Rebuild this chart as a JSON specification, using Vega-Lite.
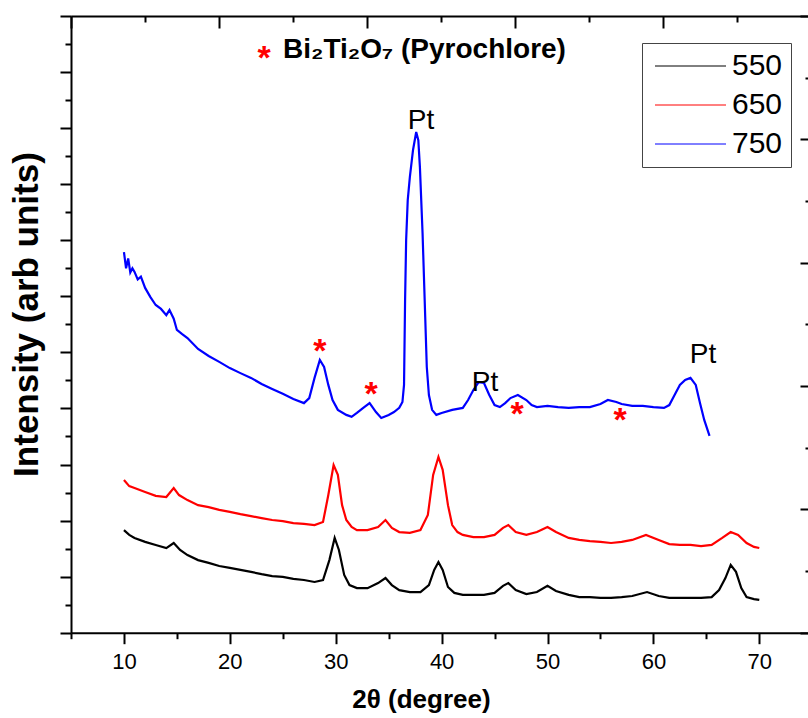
{
  "$schema": "https://vega.github.io/schema/vega-lite/v6.json",
  "width": 737,
  "height": 616.7,
  "autosize": {"type": "none"},
  "padding": {"left": 71, "top": 16, "right": 0, "bottom": 85.3},
  "config": {
    "font": "Liberation Sans",
    "view": {"stroke": null},
    "axis": {"grid": false, "domainColor": "black", "tickColor": "black", "domainWidth": 2, "tickWidth": 2, "labelColor": "black", "titleColor": "black"}
  },
  "datasets": {
    "xrd": [
      {"s":"550","x":10.0,"y":3.66},{"s":"550","x":10.5,"y":3.49},{"s":"550","x":11,"y":3.38},{"s":"550","x":12,"y":3.24},{"s":"550","x":13,"y":3.13},{"s":"550","x":14,"y":3.02},{"s":"550","x":14.7,"y":3.20},{"s":"550","x":15.3,"y":2.95},{"s":"550","x":16,"y":2.77},{"s":"550","x":17,"y":2.59},{"s":"550","x":18,"y":2.49},{"s":"550","x":19,"y":2.38},{"s":"550","x":20,"y":2.31},{"s":"550","x":21,"y":2.24},{"s":"550","x":22,"y":2.17},{"s":"550","x":23,"y":2.09},{"s":"550","x":24,"y":2.02},{"s":"550","x":25,"y":1.99},{"s":"550","x":26,"y":1.92},{"s":"550","x":27,"y":1.88},{"s":"550","x":28,"y":1.81},{"s":"550","x":28.8,"y":1.88},{"s":"550","x":29.4,"y":2.59},{"s":"550","x":29.9,"y":3.38},{"s":"550","x":30.3,"y":2.95},{"s":"550","x":30.8,"y":2.06},{"s":"550","x":31.3,"y":1.70},{"s":"550","x":32,"y":1.59},{"s":"550","x":33,"y":1.59},{"s":"550","x":34,"y":1.77},{"s":"550","x":34.7,"y":1.95},{"s":"550","x":35.3,"y":1.70},{"s":"550","x":36,"y":1.52},{"s":"550","x":37,"y":1.45},{"s":"550","x":38,"y":1.45},{"s":"550","x":38.8,"y":1.70},{"s":"550","x":39.3,"y":2.24},{"s":"550","x":39.7,"y":2.52},{"s":"550","x":40.1,"y":2.24},{"s":"550","x":40.6,"y":1.63},{"s":"550","x":41.2,"y":1.42},{"s":"550","x":42,"y":1.35},{"s":"550","x":43,"y":1.35},{"s":"550","x":44,"y":1.35},{"s":"550","x":45,"y":1.42},{"s":"550","x":45.8,"y":1.67},{"s":"550","x":46.3,"y":1.77},{"s":"550","x":47,"y":1.52},{"s":"550","x":48,"y":1.38},{"s":"550","x":49,"y":1.45},{"s":"550","x":50,"y":1.67},{"s":"550","x":50.8,"y":1.49},{"s":"550","x":52,"y":1.35},{"s":"550","x":53,"y":1.27},{"s":"550","x":54,"y":1.27},{"s":"550","x":55,"y":1.24},{"s":"550","x":56,"y":1.24},{"s":"550","x":57,"y":1.27},{"s":"550","x":58,"y":1.31},{"s":"550","x":59.4,"y":1.45},{"s":"550","x":60.5,"y":1.31},{"s":"550","x":61.5,"y":1.24},{"s":"550","x":62.5,"y":1.24},{"s":"550","x":63.5,"y":1.24},{"s":"550","x":64.5,"y":1.24},{"s":"550","x":65.5,"y":1.27},{"s":"550","x":66.2,"y":1.52},{"s":"550","x":66.8,"y":1.95},{"s":"550","x":67.3,"y":2.42},{"s":"550","x":67.8,"y":2.17},{"s":"550","x":68.3,"y":1.59},{"s":"550","x":68.8,"y":1.27},{"s":"550","x":69.5,"y":1.20},{"s":"550","x":70,"y":1.17},
      {"s":"650","x":10.0,"y":5.45},{"s":"650","x":10.5,"y":5.23},{"s":"650","x":11,"y":5.16},{"s":"650","x":12,"y":5.02},{"s":"650","x":13,"y":4.88},{"s":"650","x":14,"y":4.84},{"s":"650","x":14.7,"y":5.16},{"s":"650","x":15.2,"y":4.91},{"s":"650","x":16,"y":4.73},{"s":"650","x":17,"y":4.55},{"s":"650","x":18,"y":4.48},{"s":"650","x":19,"y":4.38},{"s":"650","x":20,"y":4.31},{"s":"650","x":21,"y":4.23},{"s":"650","x":22,"y":4.16},{"s":"650","x":23,"y":4.09},{"s":"650","x":24,"y":4.02},{"s":"650","x":25,"y":3.98},{"s":"650","x":26,"y":3.91},{"s":"650","x":27,"y":3.88},{"s":"650","x":28,"y":3.84},{"s":"650","x":28.8,"y":3.95},{"s":"650","x":29.3,"y":4.91},{"s":"650","x":29.8,"y":5.98},{"s":"650","x":30.2,"y":5.63},{"s":"650","x":30.6,"y":4.55},{"s":"650","x":31,"y":4.02},{"s":"650","x":31.5,"y":3.77},{"s":"650","x":32,"y":3.66},{"s":"650","x":33,"y":3.66},{"s":"650","x":34,"y":3.77},{"s":"650","x":34.7,"y":4.02},{"s":"650","x":35.3,"y":3.74},{"s":"650","x":36,"y":3.59},{"s":"650","x":37,"y":3.56},{"s":"650","x":38,"y":3.66},{"s":"650","x":38.7,"y":4.20},{"s":"650","x":39.2,"y":5.63},{"s":"650","x":39.7,"y":6.27},{"s":"650","x":40.1,"y":5.81},{"s":"650","x":40.6,"y":4.55},{"s":"650","x":41,"y":3.84},{"s":"650","x":41.5,"y":3.59},{"s":"650","x":42,"y":3.49},{"s":"650","x":43,"y":3.41},{"s":"650","x":44,"y":3.41},{"s":"650","x":45,"y":3.49},{"s":"650","x":45.8,"y":3.74},{"s":"650","x":46.3,"y":3.84},{"s":"650","x":47,"y":3.59},{"s":"650","x":48,"y":3.49},{"s":"650","x":49,"y":3.59},{"s":"650","x":50,"y":3.77},{"s":"650","x":50.8,"y":3.59},{"s":"650","x":52,"y":3.38},{"s":"650","x":53,"y":3.31},{"s":"650","x":54,"y":3.27},{"s":"650","x":55,"y":3.24},{"s":"650","x":56,"y":3.20},{"s":"650","x":57,"y":3.24},{"s":"650","x":58,"y":3.31},{"s":"650","x":59.3,"y":3.49},{"s":"650","x":60.5,"y":3.31},{"s":"650","x":61.5,"y":3.16},{"s":"650","x":62.5,"y":3.13},{"s":"650","x":63.5,"y":3.13},{"s":"650","x":64.5,"y":3.09},{"s":"650","x":65.5,"y":3.13},{"s":"650","x":66.5,"y":3.38},{"s":"650","x":67.3,"y":3.59},{"s":"650","x":68,"y":3.49},{"s":"650","x":68.8,"y":3.20},{"s":"650","x":69.5,"y":3.06},{"s":"650","x":70,"y":3.02},
      {"s":"750","x":10.0,"y":13.58},{"s":"750","x":10.2,"y":13.0},{"s":"750","x":10.4,"y":13.35},{"s":"750","x":10.6,"y":12.85},{"s":"750","x":10.8,"y":13.0},{"s":"750","x":11.0,"y":12.87},{"s":"750","x":11.3,"y":12.6},{"s":"750","x":11.6,"y":12.7},{"s":"750","x":12.0,"y":12.30},{"s":"750","x":12.5,"y":11.97},{"s":"750","x":13.0,"y":11.69},{"s":"750","x":13.5,"y":11.55},{"s":"750","x":14.0,"y":11.33},{"s":"750","x":14.3,"y":11.51},{"s":"750","x":14.7,"y":11.2},{"s":"750","x":15.0,"y":10.80},{"s":"750","x":15.5,"y":10.65},{"s":"750","x":16.0,"y":10.51},{"s":"750","x":17.0,"y":10.12},{"s":"750","x":18.0,"y":9.87},{"s":"750","x":19.0,"y":9.66},{"s":"750","x":20.0,"y":9.44},{"s":"750","x":21.0,"y":9.26},{"s":"750","x":22.0,"y":9.09},{"s":"750","x":23.0,"y":8.87},{"s":"750","x":24.0,"y":8.69},{"s":"750","x":25.0,"y":8.52},{"s":"750","x":26.0,"y":8.34},{"s":"750","x":27.0,"y":8.19},{"s":"750","x":27.5,"y":8.37},{"s":"750","x":28.0,"y":9.09},{"s":"750","x":28.5,"y":9.73},{"s":"750","x":28.9,"y":9.48},{"s":"750","x":29.3,"y":8.84},{"s":"750","x":29.7,"y":8.30},{"s":"750","x":30.2,"y":7.95},{"s":"750","x":31.0,"y":7.77},{"s":"750","x":31.5,"y":7.70},{"s":"750","x":32.0,"y":7.84},{"s":"750","x":32.6,"y":8.02},{"s":"750","x":33.2,"y":8.19},{"s":"750","x":33.8,"y":7.87},{"s":"750","x":34.3,"y":7.66},{"s":"750","x":35.0,"y":7.77},{"s":"750","x":35.5,"y":7.87},{"s":"750","x":36.0,"y":8.02},{"s":"750","x":36.3,"y":8.23},{"s":"750","x":36.45,"y":8.84},{"s":"750","x":36.55,"y":11.87},{"s":"750","x":36.65,"y":14.01},{"s":"750","x":36.8,"y":15.43},{"s":"750","x":37.0,"y":16.25},{"s":"750","x":37.3,"y":17.22},{"s":"750","x":37.6,"y":17.86},{"s":"750","x":37.8,"y":17.57},{"s":"750","x":37.95,"y":16.61},{"s":"750","x":38.2,"y":14.26},{"s":"750","x":38.4,"y":11.87},{"s":"750","x":38.6,"y":9.48},{"s":"750","x":38.8,"y":8.48},{"s":"750","x":39.1,"y":7.95},{"s":"750","x":39.5,"y":7.77},{"s":"750","x":40.0,"y":7.84},{"s":"750","x":41.0,"y":7.95},{"s":"750","x":42.0,"y":8.02},{"s":"750","x":42.5,"y":8.30},{"s":"750","x":43.0,"y":8.66},{"s":"750","x":43.5,"y":8.94},{"s":"750","x":44.0,"y":8.91},{"s":"750","x":44.5,"y":8.48},{"s":"750","x":45.0,"y":8.12},{"s":"750","x":45.5,"y":8.05},{"s":"750","x":46.0,"y":8.19},{"s":"750","x":46.5,"y":8.37},{"s":"750","x":47.2,"y":8.48},{"s":"750","x":48.0,"y":8.30},{"s":"750","x":48.5,"y":8.12},{"s":"750","x":49.0,"y":8.05},{"s":"750","x":50.0,"y":8.09},{"s":"750","x":51.0,"y":8.05},{"s":"750","x":52.0,"y":8.02},{"s":"750","x":53.0,"y":8.05},{"s":"750","x":54.0,"y":8.05},{"s":"750","x":55.0,"y":8.16},{"s":"750","x":55.7,"y":8.30},{"s":"750","x":56.5,"y":8.23},{"s":"750","x":57.0,"y":8.16},{"s":"750","x":58.0,"y":8.09},{"s":"750","x":59.0,"y":8.09},{"s":"750","x":60.0,"y":8.05},{"s":"750","x":61.0,"y":8.02},{"s":"750","x":61.5,"y":8.12},{"s":"750","x":62.0,"y":8.48},{"s":"750","x":62.5,"y":8.84},{"s":"750","x":63.0,"y":9.02},{"s":"750","x":63.5,"y":9.09},{"s":"750","x":64.0,"y":8.84},{"s":"750","x":64.4,"y":8.19},{"s":"750","x":64.8,"y":7.59},{"s":"750","x":65.3,"y":7.02}
    ],
    "pt": [
      {"x": 38.05, "y": 18.26, "label": "Pt"},
      {"x": 44.10, "y": 8.91, "label": "Pt"},
      {"x": 64.68, "y": 9.91, "label": "Pt"}
    ],
    "stars": [
      {"x": 28.51, "y": 10.34, "label": "*"},
      {"x": 33.33, "y": 8.80, "label": "*"},
      {"x": 47.12, "y": 8.09, "label": "*"},
      {"x": 56.85, "y": 7.87, "label": "*"},
      {"x": 23.23, "y": 20.79, "label": "*"}
    ],
    "phase": [
      {"x": 25.02, "y": 20.79, "label": "Bi₂Ti₂O₇ (Pyrochlore)"}
    ],
    "frame": [{"t": 0, "r": 0}]
  },
  "layer": [
    {
      "encoding": {
        "x": {
          "field": "x", "type": "quantitative",
          "scale": {"domain": [5, 74.6], "nice": false, "zero": false},
          "axis": {
            "orient": "bottom",
            "values": [5, 10, 15, 20, 25, 30, 35, 40, 45, 50, 55, 60, 65, 70],
            "labelExpr": "datum.value % 10 === 0 ? datum.label : ''",
            "labelOverlap": false, "labelFlush": false,
            "tickSize": {"condition": {"test": "datum.value % 10 === 0", "value": 11}, "value": 6},
            "labelPadding": 8, "labelFontSize": 22, "labelFont": "Liberation Sans",
            "title": "2θ (degree)", "titleFontSize": 26, "titleFontWeight": "bold", "titleFont": "Liberation Sans",
            "titleX": 350, "titleY": 54
          }
        },
        "y": {
          "field": "y", "type": "quantitative",
          "scale": {"domain": [0, 22], "nice": false, "zero": false},
          "axis": {
            "orient": "left",
            "values": [0,1,2,3,4,5,6,7,8,9,10,11,12,13,14,15,16,17,18,19,20,21,22],
            "labels": false,
            "tickSize": {"condition": {"test": "datum.value % 2 === 0", "value": 11}, "value": 6},
            "title": "Intensity (arb units)", "titleFontSize": 35, "titleFontWeight": "bold", "titleFont": "Liberation Sans",
            "titleX": -45, "titleY": 298, "titleBaseline": "middle", "titleAngle": -90, "titleAlign": "center"
          }
        }
      },
      "layer": [
        {
          "data": {"name": "xrd"},
          "mark": {"type": "line", "strokeWidth": 2.2},
          "encoding": {
            "color": {
              "field": "s", "type": "nominal",
              "scale": {"domain": ["550", "650", "750"], "range": ["#000000", "#ff0000", "#0000ff"]},
              "legend": {
                "title": null, "orient": "none", "legendX": 571, "legendY": 27,
                "symbolType": "M-1,0H6.1", "symbolSize": 400, "symbolStrokeWidth": 1,
                "labelFontSize": 30, "labelFont": "Liberation Sans", "labelColor": "black",
                "strokeColor": "#444", "fillColor": "white", "padding": 8, "rowPadding": 9, "labelOffset": 52, "labelLimit": 300
              }
            }
          }
        },
        {
          "data": {"name": "pt"},
          "mark": {"type": "text", "fontSize": 28, "font": "Liberation Sans", "baseline": "middle", "align": "center", "color": "black"},
          "encoding": {"text": {"field": "label"}}
        },
        {
          "data": {"name": "stars"},
          "mark": {"type": "text", "fontSize": 34, "fontWeight": "bold", "font": "Liberation Sans", "baseline": "middle", "align": "center", "color": "#ff0000", "dy": 9},
          "encoding": {"text": {"field": "label"}}
        },
        {
          "data": {"name": "phase"},
          "mark": {"type": "text", "fontSize": 28, "fontWeight": "bold", "font": "Liberation Sans", "baseline": "middle", "align": "left", "color": "black"},
          "encoding": {"text": {"field": "label"}}
        }
      ]
    },
    {
      "data": {"name": "frame"},
      "mark": {"type": "point", "opacity": 0},
      "encoding": {
        "x": {
          "field": "t", "type": "quantitative",
          "scale": {"domain": [0, 9.9595], "nice": false, "zero": false},
          "axis": {
            "orient": "top", "values": [0,1,2,3,4,5,6,7,8,9], "labels": false, "title": null,
            "tickSize": {"condition": {"test": "datum.value % 2 === 0", "value": -12}, "value": -6}
          }
        },
        "y": {
          "field": "r", "type": "quantitative",
          "scale": {"domain": [0, 5], "nice": false, "zero": false},
          "axis": {
            "orient": "right", "values": [0,0.5,1,1.5,2,2.5,3,3.5,4,4.5,5], "labels": false, "title": null, "domain": false,
            "tickSize": {"condition": {"test": "datum.value % 1 === 0", "value": -8}, "value": -3}
          }
        }
      }
    }
  ],
  "resolve": {"scale": {"x": "independent", "y": "independent"}}
}
